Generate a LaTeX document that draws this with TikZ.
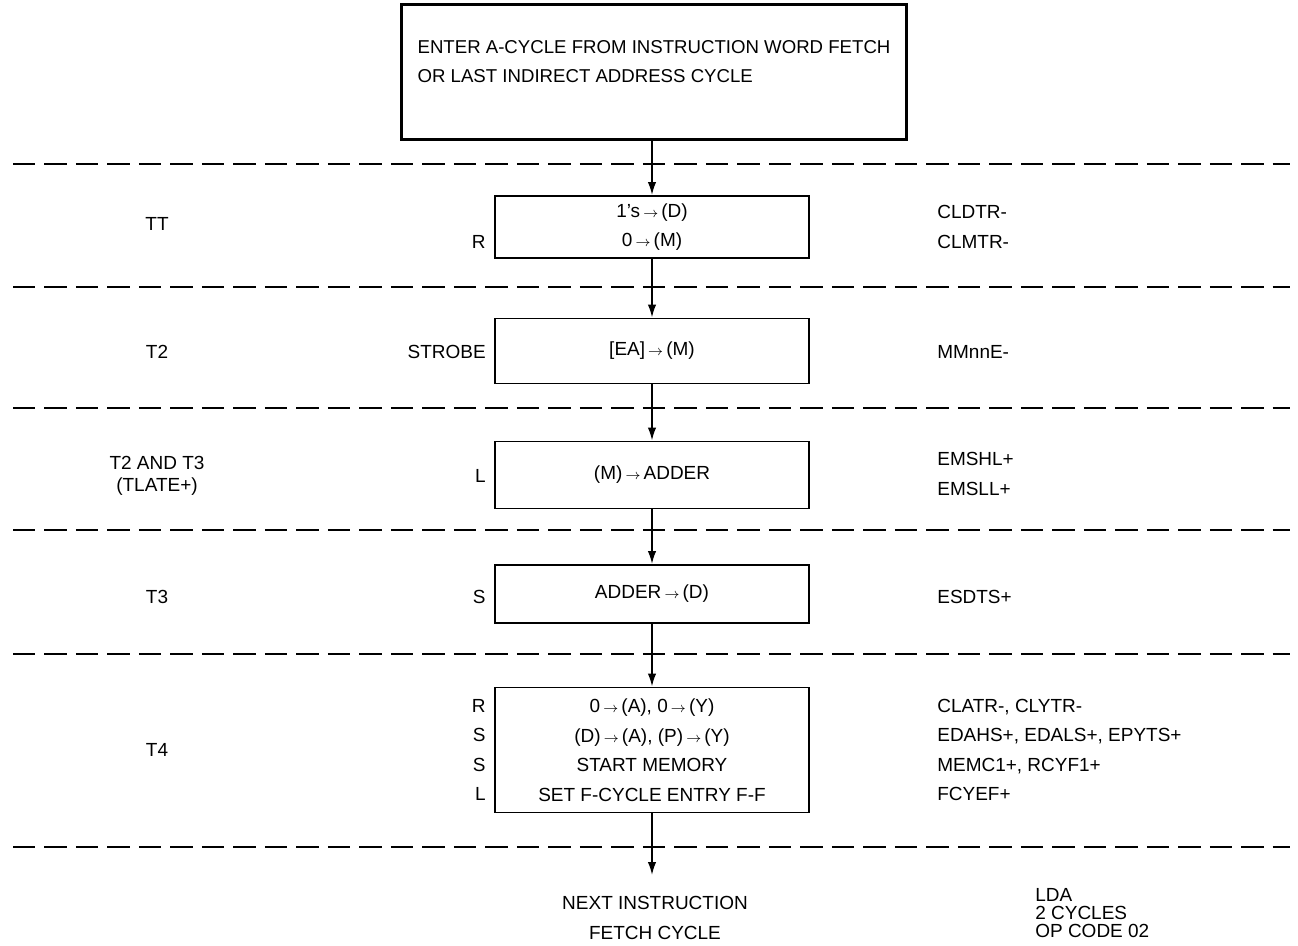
\documentclass[tikz,border=0pt]{standalone}
\usepackage{fontspec}
\setmainfont{Liberation Sans}
\usetikzlibrary{arrows.meta, positioning}
\newcommand{\rto}{\,{\footnotesize$\rightarrow$}\,}

\begin{document}
\begin{tikzpicture}[x=0.02cm, y=-0.02cm,
		every node/.style={font=\fontsize{10.8}{16.8}\selectfont, inner sep=0pt},
		stepbox/.style={draw, line width=1.1pt, minimum width=6.28cm, align=center},
		divider/.style={line width=1.2pt, dash pattern=on 0.45cm off 0.18cm},
		flow/.style={line width=1pt, -{Latex[length=2.6mm, width=1.7mm]}}]
	\useasboundingbox (0,0) rectangle (1298,946);
	\foreach \y in {164,287,408,530,654,847}
		\draw[divider] (13,\y) -- (1290,\y);
	\node[draw, line width=2pt, minimum width=10.1cm, minimum height=2.7cm, align=left,
		font=\fontsize{10.6}{16.5}\selectfont] (entry) at (654,72)
		{ENTER A-CYCLE FROM INSTRUCTION WORD FETCH\\OR LAST INDIRECT ADDRESS CYCLE\\[-5pt]\mbox{}};
	\node[stepbox, minimum height=1.24cm] (b1) at (652,227) {1'{}s\rto(D)\\0\rto(M)};
	\node[stepbox, minimum height=1.3cm] (b2) at (652,351) {[EA]\rto(M)};
	\node[stepbox, minimum height=1.34cm] (b3) at (652,475) {(M)\rto ADDER};
	\node[stepbox, minimum height=1.16cm] (b4) at (652,594) {ADDER\rto(D)};
	\node[stepbox, minimum height=2.5cm] (b5) at (652,750)
		{0\rto(A), 0\rto(Y)\\(D)\rto(A), (P)\rto(Y)\\START MEMORY\\SET F-CYCLE ENTRY F-F};
	\coordinate (exit) at (652,875);
	\draw[flow] (entry.south -| b1.north) -- (b1);
	\draw[flow] (b1) -- (b2);
	\draw[flow] (b2) -- (b3);
	\draw[flow] (b3) -- (b4);
	\draw[flow] (b4) -- (b5);
	\draw[flow] (b5) -- (exit);
	\node[align=center] (next) at (655,918) {NEXT INSTRUCTION\\FETCH CYCLE};
	% time slots
	\node (tt) at (157,224) {TT};
	\node (t2) at (157,352) {T2};
	\node[align=center, font=\fontsize{10.8}{12.5}\selectfont] (t23) at (157,476) {T2 AND T3\\(TLATE+)};
	\node (t3) at (157,597) {T3};
	\node (t4) at (157,750) {T4};
	% phases
	\node[anchor=east] (p1) at (486,242) {R};
	\node[anchor=east] (p2) at (486,352) {STROBE};
	\node[anchor=east] (p3) at (486,476) {L};
	\node[anchor=east] (p4) at (486,597) {S};
	\node[anchor=east, align=right] (p5) at (486,750) {R\\S\\S\\L};
	% signals
	\node[anchor=west, align=left] (s1) at (937,227) {CLDTR-\\CLMTR-};
	\node[anchor=west] (s2) at (937,352) {MMnnE-};
	\node[anchor=west, align=left] (s3) at (937,474) {EMSHL+\\EMSLL+};
	\node[anchor=west] (s4) at (937,597) {ESDTS+};
	\node[anchor=west, align=left] (s5) at (937,750)
		{CLATR-, CLYTR-\\EDAHS+, EDALS+, EPYTS+\\MEMC1+, RCYF1+\\FCYEF+};
	\node[anchor=west, align=left, font=\fontsize{10.8}{10}\selectfont] (opcode) at (1035,913) {LDA\\2 CYCLES\\OP CODE 02};
\end{tikzpicture}
\end{document}
